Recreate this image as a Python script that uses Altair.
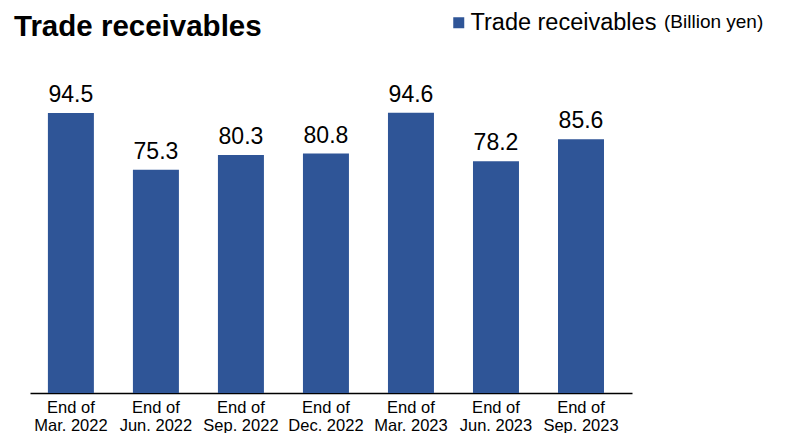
import altair as alt
import pandas as pd

periods = ["End of\nMar. 2022", "End of\nJun. 2022", "End of\nSep. 2022", "End of\nDec. 2022",
           "End of\nMar. 2023", "End of\nJun. 2023", "End of\nSep. 2023"]
values = [94.5, 75.3, 80.3, 80.8, 94.6, 78.2, 85.6]
series_name = "Trade receivables"
unit_text = "(Billion yen)"
chart_title = "Trade receivables"

df = pd.DataFrame({"period": periods, "value": values, "series": [series_name] * len(values)})

FONT = "Liberation Sans"
BLUE = "#2F5597"

x_enc = alt.X("period:N", sort=periods,
              scale=alt.Scale(paddingInner=0.459, paddingOuter=0.27, align=0.39),
              axis=alt.Axis(title=None, labelAngle=0, ticks=False, grid=False,
                            domainColor="#000000", domainWidth=1.5,
                            labelFont=FONT, labelFontSize=16.5, labelColor="#000000",
                            labelPadding=6, labelLineHeight=18,
                            labelExpr="split(datum.label, '\\n')"))
y_enc = alt.Y("value:Q", scale=alt.Scale(domain=[0, 110], nice=False), axis=None)

bars = alt.Chart(df).mark_bar().encode(
    x=x_enc, y=y_enc,
    color=alt.Color("series:N", scale=alt.Scale(range=[BLUE]),
                    legend=alt.Legend(title=None, orient="none", legendX=417, legendY=-56,
                                      padding=0, symbolType="square", symbolSize=121,
                                      symbolStrokeWidth=0, labelLimit=0,
                                      labelFont=FONT, labelFontSize=23.5, labelColor="#000000",
                                      labelOffset=0))
)

labels = alt.Chart(df).mark_text(font=FONT, fontSize=23, baseline="alphabetic", dy=-11,
                                 color="#000000").encode(
    x=alt.X("period:N", sort=periods), y="value:Q", text=alt.Text("value:Q", format=".1f"))

title_df = pd.DataFrame({"t": [chart_title]})
title = alt.Chart(title_df).mark_text(font=FONT, fontSize=29.5, fontWeight="bold", align="left",
                                      baseline="alphabetic", color="#000000").encode(
    x=alt.value(-16), y=alt.value(-31), text="t:N")

unit_df = pd.DataFrame({"t": [unit_text]})
unit = alt.Chart(unit_df).mark_text(font=FONT, fontSize=19, align="left",
                                    baseline="alphabetic", color="#000000").encode(
    x=alt.value(634), y=alt.value(-39), text="t:N")

chart = alt.layer(bars, labels, title, unit).properties(
    width=602, height=326,
    autosize=alt.AutoSizeParams(type="none"),
    padding={"left": 30, "top": 67, "right": 168, "bottom": 40},
    background="#ffffff",
).configure_view(strokeWidth=0, stroke="transparent")

chart.save("out.html", embed_options={"renderer": "svg", "actions": False})
